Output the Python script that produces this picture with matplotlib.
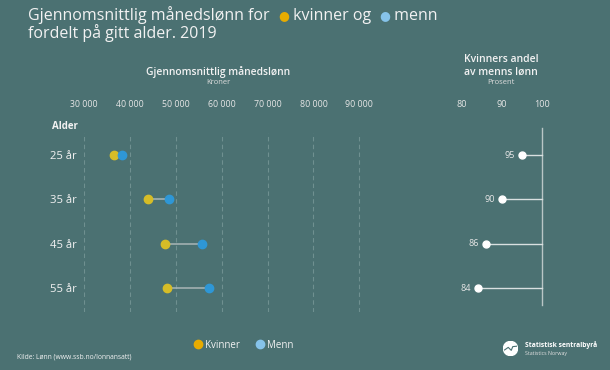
import matplotlib
matplotlib.use("Agg")
import matplotlib.pyplot as plt
from matplotlib.lines import Line2D
from matplotlib.patches import Circle

plt.rcParams['font.family'] = ['Open Sans', 'DejaVu Sans']

# data
ages = ["25 år", "35 år", "45 år", "55 år"]
kvinner = [36400, 43800, 47500, 48000]
menn = [38300, 48500, 55600, 57300]
andel = [95, 90, 86, 84]
kr_ticks = [30000, 40000, 50000, 60000, 70000, 80000, 90000]
kr_labels = ["30 000", "40 000", "50 000", "60 000", "70 000", "80 000", "90 000"]
pct_ticks = [80, 90, 100]

bg = "#4b7172"
txt = "#f2f2f2"
c_kv = "#d6bd27"
c_me = "#2e97d6"
c_kv_leg = "#e8ac00"
c_me_leg = "#86c3ea"

W, H = 610, 370
fig = plt.figure(figsize=(W / 100, H / 100), dpi=100, facecolor=bg)

def px(x0, y0, x1, y1):
    # pixel box -> figure fraction [left, bottom, width, height]
    return [x0 / W, 1 - y1 / H, (x1 - x0) / W, (y1 - y0) / H]

ypos = list(range(len(ages)))

# left panel: monthly wage (a bit of room past 90 000 so its gridline shows)
ax1 = fig.add_axes(px(84.3, 133, 361.6, 312))
ax1.set_facecolor(bg)
ax1.set_xlim(30000, 90500)
ax1.set_ylim(3.54, -0.5)
for k, m, y in zip(kvinner, menn, ypos):
    ax1.plot([k, m], [y, y], color="#a9b6b6", lw=1.1, zorder=2)
ax1.plot(kvinner, ypos, "o", color=c_kv, ms=6, zorder=3, clip_on=False)
ax1.plot(menn, ypos, "o", color=c_me, ms=6, zorder=3, clip_on=False)
ax1.set_xticks(kr_ticks)
ax1.set_xticklabels(kr_labels)
ax1.xaxis.tick_top()
ax1.tick_params(axis="x", length=0, pad=17, labelsize=6.3, labelcolor="#e6e6e6")
ax1.set_yticks(ypos)
ax1.set_yticklabels(ages)
ax1.tick_params(axis="y", length=0, pad=5.5, labelsize=8.1, labelcolor=txt)
ax1.grid(axis="x", color="#6f9090", ls=(0, (4, 3)), lw=0.8)
ax1.set_axisbelow(True)
for s in ax1.spines.values():
    s.set_visible(False)

# right panel: women's share
ax2 = fig.add_axes(px(454, 133, 550, 312))
ax2.set_facecolor("none")
ax2.set_xlim(78, 102)
ax2.set_ylim(3.54, -0.5)
ax2.axvline(100, ymin=(312 - 305) / 179, ymax=(312 - 128) / 179, color="#b9c6c6",
            lw=1, clip_on=False)
for a, y in zip(andel, ypos):
    ax2.plot([a, 100], [y, y], color="#d9e0e0", lw=1, zorder=2)
    ax2.annotate(str(a), (a, y), xytext=(-5, 0), textcoords="offset points",
                 ha="right", va="center", fontsize=6.5, color="#e6e6e6")
ax2.plot(andel, ypos, "o", color="white", ms=5, zorder=3)
ax2.set_xticks(pct_ticks)
ax2.xaxis.tick_top()
ax2.tick_params(axis="x", length=0, pad=17, labelsize=6.5, labelcolor="#e6e6e6")
ax2.set_yticks([])
for s in ax2.spines.values():
    s.set_visible(False)

# headers
fig.text(218 / W, 1 - 72 / H, "Gjennomsnittlig månedslønn", ha="center", va="center",
         fontsize=7.4, color=txt, fontweight="semibold")
fig.text(218 / W, 1 - 82 / H, "Kroner", ha="center", va="center", fontsize=5.5, color="#dddddd")
fig.text(65 / W, 1 - 126 / H, "Alder", ha="center", va="center", fontsize=7,
         color=txt, fontweight="bold")
fig.text(501 / W, 1 - 60 / H, "Kvinners andel", ha="center", va="center",
         fontsize=7.5, color=txt, fontweight="semibold")
fig.text(501 / W, 1 - 72 / H, "av menns lønn", ha="center", va="center",
         fontsize=7.5, color=txt, fontweight="semibold")
fig.text(501 / W, 1 - 83 / H, "Prosent", ha="center", va="center", fontsize=5.5, color="#dddddd")

# title, built piece by piece
renderer = fig.canvas.get_renderer()
pieces = [("Gjennomsnittlig månedslønn for  ", txt, 11.5), ("●", c_kv_leg, 9),
          (" kvinner og  ", txt, 11.5), ("●", c_me_leg, 9), (" menn", txt, 11.5)]
x = 28
for s, c, fs in pieces:
    t = fig.text(x / W, 1 - 19.5 / H, s, ha="left", va="baseline", fontsize=fs, color=c)
    bb = t.get_window_extent(renderer)
    x += bb.width
fig.text(28 / W, 1 - 37.5 / H, "fordelt på gitt alder. 2019", ha="left", va="baseline",
         fontsize=11.5, color=txt)

# legend
handles = [Line2D([], [], marker="o", ls="", color=c_kv_leg, ms=6, label="Kvinner"),
           Line2D([], [], marker="o", ls="", color=c_me_leg, ms=6, label="Menn")]
leg = fig.legend(handles=handles, loc="center", bbox_to_anchor=(244 / W, 1 - 345 / H),
                 ncol=2, frameon=False, fontsize=7, handlelength=0.8, handletextpad=0.3,
                 columnspacing=1.7, labelcolor=txt)

# source
fig.text(17 / W, 1 - 357 / H, "Kilde: Lønn (www.ssb.no/lonnansatt)", ha="left", va="center",
         fontsize=4.9, color=txt)

# logo
logo = fig.add_axes(px(503, 341, 518, 356))
logo.set_xlim(-1, 1)
logo.set_ylim(-1, 1)
logo.set_aspect("equal")
logo.axis("off")
logo.add_patch(Circle((0, 0), 0.95, color="white"))
logo.plot([-0.8, -0.3, 0.1, 0.3, 0.8], [-0.2, 0.15, -0.25, 0.25, 0.3], color=bg, lw=0.8)
fig.text(525 / W, 1 - 345 / H, "Statistisk sentralbyrå", ha="left", va="center",
         fontsize=4.9, color="white", fontweight="bold")
fig.text(525 / W, 1 - 353.5 / H, "Statistics Norway", ha="left", va="center",
         fontsize=3.8, color="#e0e0e0")

fig.savefig("out.png", dpi=100, facecolor=bg)
